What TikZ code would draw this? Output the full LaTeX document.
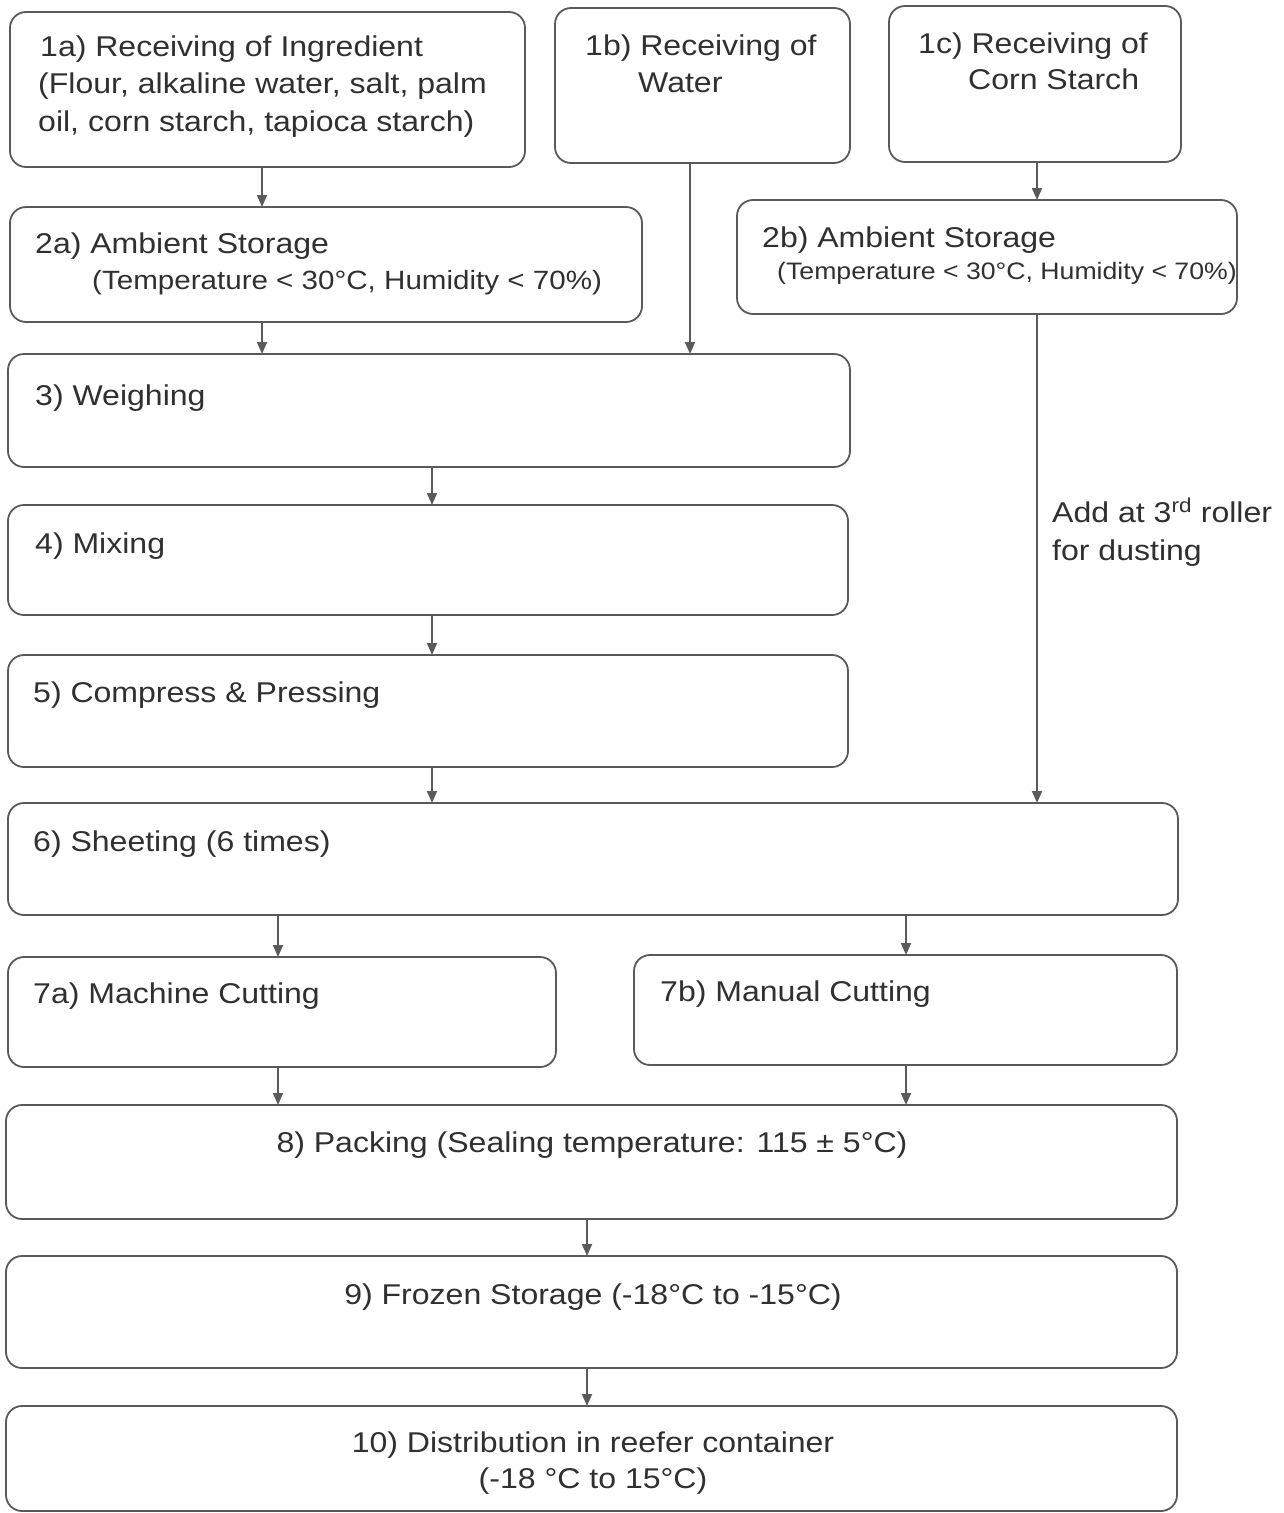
\documentclass[tikz,border=0pt]{standalone}
\usepackage{fontspec}
\setmainfont{Liberation Sans}[FakeStretch=1.12]
\usetikzlibrary{arrows.meta}
\definecolor{ln}{HTML}{5A5A5A}
\definecolor{tx}{HTML}{303030}
\begin{document}
\begin{tikzpicture}[x=1pt,y=-1pt,
  box/.style={draw=ln, line width=1.8pt, rounded corners=16pt, anchor=north west, inner sep=0pt, outer sep=0pt},
  lt/.style={anchor=base west, inner sep=0pt, text=tx, font=\fontsize{28.6}{34}\selectfont},
  lts/.style={lt, font=\fontsize{26.4}{30}\selectfont},
  ltx/.style={lt, font=\fontsize{23.8}{28}\selectfont},
  ct/.style={lt, anchor=base},
  arr/.style={draw=ln, line width=1.8pt, -{Triangle[length=12pt,width=10pt]}}]
\useasboundingbox (0,0) rectangle (1283,1513);
\fill[white] (0,0) rectangle (1283,1513);
% boxes
\node[box, minimum width=515, minimum height=155] (n1a) at (10,12) {};
\node[box, minimum width=295, minimum height=155] (n1b) at (555,8) {};
\node[box, minimum width=292, minimum height=156] (n1c) at (889,6) {};
\node[box, minimum width=632, minimum height=115] (n2a) at (10,207) {};
\node[box, minimum width=500, minimum height=114] (n2b) at (737,200) {};
\node[box, minimum width=842, minimum height=113] (n3) at (8,354) {};
\node[box, minimum width=840, minimum height=110] (n4) at (8,505) {};
\node[box, minimum width=840, minimum height=112] (n5) at (8,655) {};
\node[box, minimum width=1170, minimum height=112] (n6) at (8,803) {};
\node[box, minimum width=548, minimum height=110] (n7a) at (8,957) {};
\node[box, minimum width=543, minimum height=110] (n7b) at (634,955) {};
\node[box, minimum width=1171, minimum height=114] (n8) at (6,1105) {};
\node[box, minimum width=1171, minimum height=112] (n9) at (6,1256) {};
\node[box, minimum width=1171, minimum height=105] (n10) at (6,1406) {};
% texts
\node[lt] (t1a1) at (40,56) {1a) Receiving of Ingredient};
\node[lt] (t1a2) at (38,93) {(Flour, alkaline water, salt, palm};
\node[lt] (t1a3) at (38,131) {oil, corn starch, tapioca starch)};
\node[lt] (t1b1) at (585,55) {1b) Receiving of};
\node[lt] (t1b2) at (638,92) {Water};
\node[lt] (t1c1) at (918,53) {1c) Receiving of};
\node[lt] (t1c2) at (968,89) {Corn Starch};
\node[lt] (t2a1) at (35,253) {2a) Ambient Storage};
\node[lts] (t2a2) at (92,289) {(Temperature < 30°C, Humidity < 70\%)};
\node[lt] (t2b1) at (762,247) {2b) Ambient Storage};
\node[ltx] (t2b2) at (777,279) {(Temperature < 30°C, Humidity < 70\%)};
\node[lt] (t3) at (35,405) {3) Weighing};
\node[lt] (t4) at (35,553) {4) Mixing};
\node[lt] (t5) at (33,702) {5) Compress \& Pressing};
\node[lt] (t6) at (33,851) {6) Sheeting (6 times)};
\node[lt] (t7a) at (33,1003) {7a) Machine Cutting};
\node[lt] (t7b) at (660,1001) {7b) Manual Cutting};
\node[ct] (t8) at (592,1152) {8) Packing (Sealing temperature: 115 ± 5°C)};
\node[ct] (t9) at (593,1304) {9) Frozen Storage (-18°C to -15°C)};
\node[ct] (t10a) at (593,1452) {10) Distribution in reefer container};
\node[ct] (t10b) at (593,1488) {(-18 °C to 15°C)};
\node[lt] (lab1) at (1052,522) {Add at 3\textsuperscript{rd} roller};
\node[lt] (lab2) at (1052,560) {for dusting};
% connector x positions
\coordinate (xA) at (262,0);
\coordinate (xB) at (690,0);
\coordinate (xC) at (1037,0);
\coordinate (xD) at (432,0);
\coordinate (xE) at (278,0);
\coordinate (xF) at (906,0);
\coordinate (xG) at (587,0);
% arrows
\draw[arr] (n1a.south -| xA) -- (n2a.north -| xA);
\draw[arr] (n2a.south -| xA) -- (n3.north -| xA);
\draw[arr] (n1b.south -| xB) -- (n3.north -| xB);
\draw[arr] (n1c.south -| xC) -- (n2b.north -| xC);
\draw[arr] (n2b.south -| xC) -- (n6.north -| xC);
\draw[arr] (n3.south -| xD) -- (n4.north -| xD);
\draw[arr] (n4.south -| xD) -- (n5.north -| xD);
\draw[arr] (n5.south -| xD) -- (n6.north -| xD);
\draw[arr] (n6.south -| xE) -- (n7a.north -| xE);
\draw[arr] (n6.south -| xF) -- (n7b.north -| xF);
\draw[arr] (n7a.south -| xE) -- (n8.north -| xE);
\draw[arr] (n7b.south -| xF) -- (n8.north -| xF);
\draw[arr] (n8.south -| xG) -- (n9.north -| xG);
\draw[arr] (n9.south -| xG) -- (n10.north -| xG);
\end{tikzpicture}
\end{document}
